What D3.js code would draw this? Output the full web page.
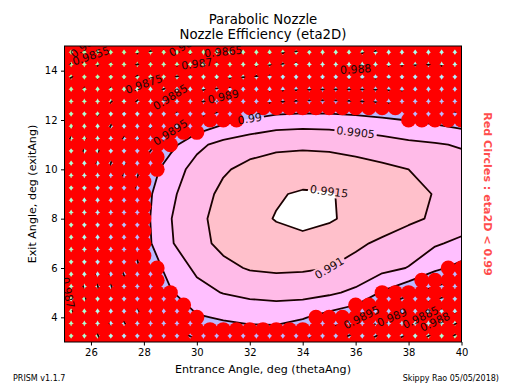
<!DOCTYPE html>
<html>
<head>
<meta charset="utf-8">
<script src="https://cdn.jsdelivr.net/npm/d3@7"></script>
<style>
body { margin: 0; background: #fff; }
svg { font-family: "DejaVu Sans", sans-serif; }
</style>
</head>
<body>
<div id="VizBox"></div>
<script>
// entrance angle (columns) and exit angle (rows, top to bottom) of the eta2D grid
var thetaAng = [25, 26, 27, 28, 29, 30, 31, 32, 33, 34, 35, 36, 37, 38, 39, 40];
var exitAng = [15, 14, 13, 12, 11, 10, 9, 8, 7, 6, 5, 4, 3];

// nozzle efficiency, one row per exitAng
var eta2D = [
  [0.9847, 0.9851, 0.9854, 0.9857, 0.9859, 0.9861, 0.9862, 0.98635, 0.9866, 0.9868, 0.9870, 0.9872, 0.9874, 0.9876, 0.9877, 0.9878],
  [0.9857, 0.9861, 0.9865, 0.9869, 0.98715, 0.98735, 0.9875, 0.98765, 0.9878, 0.98795, 0.9880, 0.98805, 0.9881, 0.9881, 0.9881, 0.9880],
  [0.9864, 0.9869, 0.9875, 0.9880, 0.98845, 0.98875, 0.98895, 0.9891, 0.98922, 0.9893, 0.98932, 0.9893, 0.98925, 0.98915, 0.98905, 0.9889],
  [0.9867, 0.9874, 0.9881, 0.98865, 0.98915, 0.98955, 0.98985, 0.99005, 0.99022, 0.99026, 0.99024, 0.99017, 0.99008, 0.98998, 0.98988, 0.98975],
  [0.9869, 0.9877, 0.9885, 0.98925, 0.98985, 0.99038, 0.99066, 0.99082, 0.9909, 0.99092, 0.9909, 0.99083, 0.99073, 0.99062, 0.99055, 0.99045],
  [0.9870, 0.9879, 0.9888, 0.98965, 0.99025, 0.99068, 0.99095, 0.99112, 0.99122, 0.99126, 0.99124, 0.99118, 0.9911, 0.991, 0.99088, 0.99075],
  [0.9871, 0.9880, 0.98895, 0.98982, 0.9904, 0.99081, 0.9911, 0.9913, 0.99146, 0.99155, 0.99153, 0.9914, 0.99127, 0.99113, 0.99098, 0.99083],
  [0.9871, 0.9880, 0.98905, 0.98985, 0.99048, 0.99088, 0.99118, 0.99138, 0.99152, 0.99165, 0.99155, 0.99138, 0.99124, 0.99109, 0.99094, 0.9908],
  [0.9870, 0.9880, 0.98905, 0.98982, 0.99045, 0.99085, 0.99112, 0.99128, 0.99136, 0.99135, 0.99128, 0.99108, 0.99092, 0.99075, 0.99056, 0.99038],
  [0.9870, 0.9879, 0.9889, 0.98962, 0.99018, 0.9906, 0.99088, 0.99104, 0.99108, 0.99106, 0.991, 0.99085, 0.99065, 0.99048, 0.9901, 0.98985],
  [0.9869, 0.9877, 0.98865, 0.98935, 0.98995, 0.99033, 0.99052, 0.99064, 0.9907, 0.99068, 0.99058, 0.9904, 0.98995, 0.9896, 0.9893, 0.9890],
  [0.9867, 0.9875, 0.9884, 0.98905, 0.98965, 0.98995, 0.99005, 0.9901, 0.99011, 0.99004, 0.98982, 0.9896, 0.98915, 0.98875, 0.9882, 0.9877],
  [0.9865, 0.9872, 0.9880, 0.9887, 0.98925, 0.98945, 0.98965, 0.98975, 0.98975, 0.9895, 0.98905, 0.98865, 0.98815, 0.98765, 0.9871, 0.9865]
];

// contour levels and the fill colour of each band (first one is below the lowest level)
var levels = [0.985, 0.9855, 0.986, 0.9865, 0.987, 0.9875, 0.988, 0.9885, 0.989, 0.9895, 0.99, 0.9905, 0.991, 0.9915];
var bandColors = ["#a8ffa8", "#a8ffa8", "#aaffb0", "#acffb8", "#aeffc4", "#b0ffd4", "#b0ffee", "#b0f0ff", "#b0d8ff", "#b4c4ff", "#bcb8ff",
                  "#ffbfff", "#ffbbe8", "#ffc0cb", "#ffffff"];

// where the inline labels sit: [level, thetaAng, exitAng]
var labelSpots = [
  [0.985, 26.0, 14.7], [0.9855, 26.5, 14.55], [0.986, 31.4, 14.95], [0.9865, 31.0, 14.7],
  [0.987, 30.0, 14.37], [0.9875, 28.4, 13.7], [0.988, 36.0, 13.9], [0.9885, 29.0, 12.94],
  [0.989, 31.0, 12.9], [0.9895, 29.0, 11.6], [0.99, 32.5, 12.13], [0.9905, 36.35, 11.5],
  [0.991, 34.5, 6.0], [0.9915, 35.0, 9.05], [0.987, 25.2, 4.7],
  [0.9895, 36.5, 4.16], [0.989, 37.5, 3.96], [0.9885, 38.6, 3.96], [0.988, 38.9, 3.63]
];

// red circle grid (0.5 deg) : '#' where eta2D < 0.99
var thetaFine = [25, 25.5, 26, 26.5, 27, 27.5, 28, 28.5, 29, 29.5, 30, 30.5, 31, 31.5, 32, 32.5,
                 33, 33.5, 34, 34.5, 35, 35.5, 36, 36.5, 37, 37.5, 38, 38.5, 39, 39.5, 40];
var exitFine = [15, 14.5, 14, 13.5, 13, 12.5, 12, 11.5, 11, 10.5, 10, 9.5, 9, 8.5, 8, 7.5, 7, 6.5,
                6, 5.5, 5, 4.5, 4, 3.5, 3];
var redMask = [
  "###############################",
  "###############################",
  "###############################",
  "###############################",
  "###############################",
  "###############################",
  "##############............#####",
  "###########....................",
  "#########......................",
  "########.......................",
  "########.......................",
  "#######........................",
  "#######........................",
  "#######........................",
  "#######........................",
  "#######........................",
  "#######........................",
  "#######........................",
  "########.....................##",
  "########...................####",
  "#########...............#######",
  "##########............#########",
  "###########........############",
  "###############################",
  "###############################"
];

var xTicks = [26, 28, 30, 32, 34, 36, 38, 40];
var yTicks = [4, 6, 8, 10, 12, 14];

var W = 512, H = 384;
var x = d3.scaleLinear().domain([25, 40]).range([64.5, 461.5]);
var y = d3.scaleLinear().domain([3, 15]).range([342, 46]);

var svg = d3.select("#VizBox").append("svg")
    .attr("width", W)
    .attr("height", H);
var defs = svg.append("defs");
defs.append("clipPath").attr("id", "plotClip").append("rect")
    .attr("x", x(25)).attr("y", y(15))
    .attr("width", x(40) - x(25)).attr("height", y(3) - y(15));

// d3.contours wants row 0 at the low end, so flip the rows
var nx = thetaAng.length, ny = exitAng.length;
var values = [];
for (var j = ny - 1; j >= 0; j--) values = values.concat(eta2D[j]);
var x0 = d3.min(thetaAng), y0 = d3.min(exitAng), step = thetaAng[1] - thetaAng[0];

var contours = d3.contours().size([nx, ny]).thresholds(levels)(values);

// grid coords -> pixels (cell centres sit at i + 0.5)
function toPx(p) { return [x(x0 + (p[0] - 0.5) * step), y(y0 + (p[1] - 0.5) * step)]; }
contours.forEach(function(c) {
  c.raw = c.coordinates;
  c.px = c.coordinates.map(function(poly) {
    return poly.map(function(ring) { return ring.map(toPx); });
  });
});
var geo = d3.geoPath();

var plot = svg.append("g").attr("clip-path", "url(#plotClip)");

// filled bands
plot.append("rect")
    .attr("x", x(25)).attr("y", y(15))
    .attr("width", x(40) - x(25)).attr("height", y(3) - y(15))
    .attr("fill", bandColors[0]);
plot.selectAll("path.band")
  .data(contours)
  .enter()
  .append("path")
    .attr("class", "band")
    .attr("d", function(c) { return geo({type: "MultiPolygon", coordinates: c.px}); })
    .attr("fill", function(c, i) { return bandColors[i + 1]; });

// contour lines (gaps cut by a mask under the labels)
plot.append("g")
    .attr("mask", "url(#labelGap)")
  .selectAll("path")
  .data(contours)
  .enter()
  .append("path")
    .attr("d", function(c) { return geo({type: "MultiPolygon", coordinates: c.px}); })
    .attr("fill", "none")
    .attr("stroke", "#1a0000")
    .attr("stroke-width", 1.8)
    .attr("stroke-linejoin", "round");

// red circles where eta2D < 0.99
var dots = [];
exitFine.forEach(function(e, r) {
  thetaFine.forEach(function(t, k) {
    if (redMask[r].charAt(k) === "#") dots.push({theta: t, exit: e});
  });
});
plot.selectAll("circle")
  .data(dots)
  .enter()
  .append("circle")
    .attr("cx", function(d) { return x(d.theta); })
    .attr("cy", function(d) { return y(d.exit); })
    .attr("r", 7.5)
    .attr("fill", "#ff0000");

// place each label on the nearest point of its contour, rotated along the line
var placed = [];
labelSpots.forEach(function(s) {
  var c = contours.find(function(c) { return Math.abs(c.value - s[0]) < 1e-7; });
  if (!c) return;
  var tx = x(s[1]), ty = y(s[2]);
  var best = null;
  c.raw.forEach(function(poly, pi) {
    poly.forEach(function(ring, ri) {
      var pr = c.px[pi][ri];
      ring.forEach(function(g, k) {
        if (g[0] <= 0 || g[0] >= nx || g[1] <= 0 || g[1] >= ny) return;
        var p = pr[k];
        var d = (p[0] - tx) * (p[0] - tx) + (p[1] - ty) * (p[1] - ty);
        if (!best || d < best.d) {
          var a = pr[(k - 1 + pr.length) % pr.length], b = pr[(k + 1) % pr.length];
          best = {d: d, p: p, ang: Math.atan2(b[1] - a[1], b[0] - a[0]) * 180 / Math.PI};
        }
      });
    });
  });
  if (!best) return;
  var ang = best.ang;
  if (ang > 90) ang -= 180;
  if (ang <= -90) ang += 180;
  placed.push({text: String(+s[0].toFixed(4)), x: best.p[0], y: best.p[1], ang: ang});
});

var labels = svg.append("g").attr("clip-path", "url(#plotClip)")
  .selectAll("text")
  .data(placed)
  .enter()
  .append("text")
    .attr("transform", function(d) { return "translate(" + d.x + "," + d.y + ")rotate(" + d.ang + ")"; })
    .attr("text-anchor", "middle")
    .attr("dy", "0.35em")
    .attr("font-size", 11)
    .attr("fill", "#1a0a0a")
    .text(function(d) { return d.text; });

var mask = defs.append("mask").attr("id", "labelGap")
    .attr("maskUnits", "userSpaceOnUse")
    .attr("x", 0).attr("y", 0).attr("width", W).attr("height", H);
mask.append("rect").attr("width", W).attr("height", H).attr("fill", "white");
labels.each(function(d) {
  var w = this.getComputedTextLength() + 4;
  mask.append("rect")
      .attr("x", -w / 2).attr("y", -6).attr("width", w).attr("height", 12)
      .attr("transform", "translate(" + d.x + "," + d.y + ")rotate(" + d.ang + ")")
      .attr("fill", "black");
});

// frame
svg.append("rect")
    .attr("x", x(25)).attr("y", y(15))
    .attr("width", x(40) - x(25)).attr("height", y(3) - y(15))
    .attr("fill", "none")
    .attr("stroke", "#000")
    .attr("stroke-width", 1);

// axes
var xAxis = svg.append("g")
    .attr("transform", "translate(0," + y(3) + ")")
    .call(d3.axisBottom(x).tickValues(xTicks).tickSize(3.5).tickPadding(3.5).tickFormat(d3.format("d")));
var yAxis = svg.append("g")
    .attr("transform", "translate(" + x(25) + ",0)")
    .call(d3.axisLeft(y).tickValues(yTicks).tickSize(3.5).tickPadding(3.5).tickFormat(d3.format("d")));
[xAxis, yAxis].forEach(function(a) {
  a.select(".domain").remove();
  a.attr("font-family", "DejaVu Sans").attr("font-size", 10);
  a.selectAll("text").attr("fill", "#000");
  a.selectAll("line").attr("stroke", "#000");
});

// titles and labels
svg.append("text")
    .attr("x", 263).attr("y", 24)
    .attr("text-anchor", "middle")
    .attr("font-size", 13.3)
    .text("Parabolic Nozzle");
svg.append("text")
    .attr("x", 263).attr("y", 39)
    .attr("text-anchor", "middle")
    .attr("font-size", 13.3)
    .text("Nozzle Efficiency (eta2D)");
svg.append("text")
    .attr("x", 263).attr("y", 373)
    .attr("text-anchor", "middle")
    .attr("font-size", 11.1)
    .text("Entrance Angle, deg (thetaAng)");
svg.append("text")
    .attr("transform", "translate(36," + ((y(3) + y(15)) / 2) + ")rotate(-90)")
    .attr("text-anchor", "middle")
    .attr("font-size", 11.1)
    .text("Exit Angle, deg (exitAng)");
svg.append("text")
    .attr("transform", "translate(484," + ((y(3) + y(15)) / 2) + ")rotate(90)")
    .attr("text-anchor", "middle")
    .attr("font-size", 11.1)
    .attr("font-weight", "bold")
    .attr("fill", "#ff4d4d")
    .text("Red Circles : eta2D < 0.99");
svg.append("text")
    .attr("x", 13).attr("y", 381)
    .attr("font-size", 8)
    .text("PRISM v1.1.7");
svg.append("text")
    .attr("x", 499).attr("y", 381)
    .attr("text-anchor", "end")
    .attr("font-size", 8)
    .text("Skippy Rao 05/05/2018)");
</script>
</body>
</html>
